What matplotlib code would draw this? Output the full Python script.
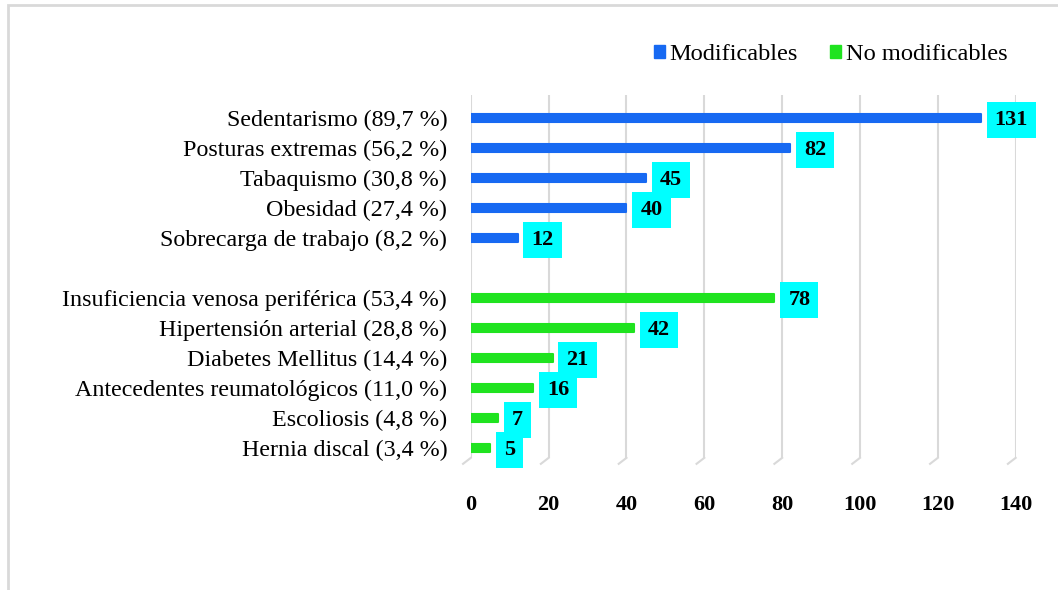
import matplotlib
matplotlib.use('Agg')
import matplotlib.pyplot as plt
from matplotlib.patches import Patch, Rectangle

# datos
mod_labels = ['Sedentarismo (89,7 %)', 'Posturas extremas (56,2 %)', 'Tabaquismo (30,8 %)',
              'Obesidad (27,4 %)', 'Sobrecarga de trabajo (8,2 %)']
mod_values = [131, 82, 45, 40, 12]
nomod_labels = ['Insuficiencia venosa periférica (53,4 %)', 'Hipertensión arterial (28,8 %)',
                'Diabetes Mellitus (14,4 %)', 'Antecedentes reumatológicos (11,0 %)',
                'Escoliosis (4,8 %)', 'Hernia discal (3,4 %)']
nomod_values = [78, 42, 21, 16, 7, 5]
x_ticks = [0, 20, 40, 60, 80, 100, 120, 140]

blue = '#1769f2'
green = '#1fe31f'
grid_c = '#d9d9d9'

plt.rcParams['font.family'] = ['Liberation Serif', 'DejaVu Serif']

fig = plt.figure(figsize=(10.58, 5.9), dpi=100)
ax = fig.add_axes([0.445, 0.224, 0.515, 0.615])

mod_pos = list(range(len(mod_values)))
nomod_pos = [len(mod_values) + 1 + i for i in range(len(nomod_values))]
y_top, y_bot = -0.77, 11.33

# rejilla con pie "3D"
for t in x_ticks:
    ax.plot([t, t], [y_top, y_bot], color=grid_c, lw=1.5, zorder=0)
    ax.plot([t, t - 2], [y_bot, y_bot + 0.2], color=grid_c, lw=1.5, zorder=0, clip_on=False)

ax.barh(mod_pos, mod_values, height=0.25, color=blue, edgecolor=blue, lw=1.5,
        joinstyle='round', zorder=2)
ax.barh(nomod_pos, nomod_values, height=0.25, color=green, edgecolor=green, lw=1.5,
        joinstyle='round', zorder=2)

for p, v in zip(mod_pos + nomod_pos, mod_values + nomod_values):
    ax.annotate(str(v), xy=(v, p), xytext=(10, -1.5), textcoords='offset points',
                ha='left', va='center', fontsize=16, fontweight='bold',
                bbox=dict(boxstyle='square,pad=0.36', fc='#00ffff', ec='none'), zorder=3)

ax.set_xlim(0, 140)
ax.set_ylim(y_bot, y_top)
ax.set_xticks(x_ticks)
ax.set_xticklabels([str(t) for t in x_ticks], fontsize=16, fontweight='bold')
ax.set_yticks(mod_pos + nomod_pos)
ax.set_yticklabels(mod_labels + nomod_labels, fontsize=17.3)
ax.tick_params(axis='x', length=0, pad=27)
ax.tick_params(axis='y', length=0, pad=17)
for s in ax.spines.values():
    s.set_visible(False)

handles = [Patch(color=blue, label='Modificables'), Patch(color=green, label='No modificables')]
fig.legend(handles=handles, loc='center right', bbox_to_anchor=(0.973, 0.908), ncol=2,
           frameon=False, fontsize=17.6, handlelength=0.45, handleheight=0.45,
           handletextpad=0.2, columnspacing=1.3)

# borde del gráfico
fig.add_artist(Rectangle((0.0076, -0.1), 1.2, 1.0915, transform=fig.transFigure,
                         fill=False, ec=grid_c, lw=2))

fig.savefig('out.png', dpi=100)
